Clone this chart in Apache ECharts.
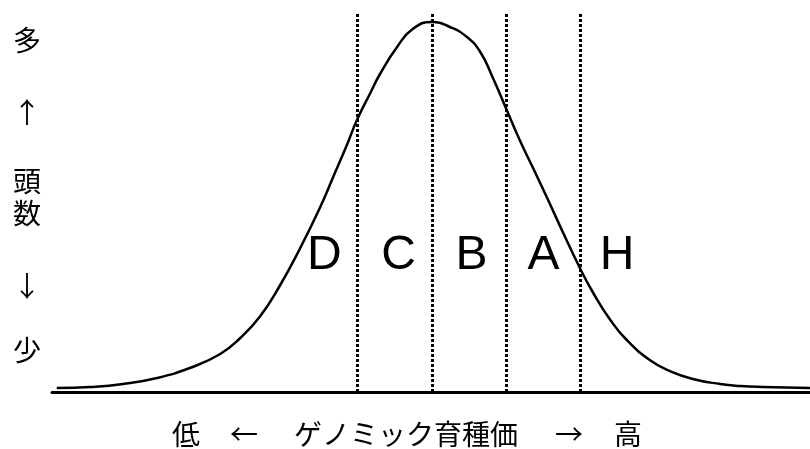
<!DOCTYPE html>
<html>
<head>
<meta charset="utf-8">
<script src="https://cdn.jsdelivr.net/npm/echarts@6/dist/echarts.min.js"></script>
<style>
html,body{margin:0;padding:0;background:#fff;}
#chart{width:810px;height:449px;}
</style>
</head>
<body>
<div id="chart"></div>
<script>
// genomic breeding value (in class-width units, 0 = centre) and relative head count
const curveX = [-5.05,-4.60,-4.16,-3.70,-3.26,-2.85,-2.58,-2.31,-2.05,-1.78,-1.51,-1.33,-1.14,-1.01,-0.83,-0.70,-0.47,-0.26,0,0.24,0.47,0.65,0.82,1.00,1.18,1.36,1.55,1.76,1.99,2.17,2.40,2.62,2.93,3.20,3.51,3.88,4.15,4.45,5.09];
const curveY = [4,5,8,14,24,38,54,76,106,143,184,215,248,272,299,318,345,363,370,365,355,340,314,283,252,224,194,160,124,99,72,52,32,21,13,8,6,5,4];
// class boundaries
const boundaries = [-1, 0, 1, 2];
// grade labels and their positions
const grades = ['D', 'C', 'B', 'A', 'H'];
const gradeX = [-1.45, -0.45, 0.53, 1.5, 2.49];
const gradeY = 136;
// axis texts
const yTexts = ['多', '↑', '頭', '数', '↓', '少'];
const yTextPos = [40, 112, 181, 213, 286, 350];
const xTexts = ['低', '←', 'ゲノミック育種価', '→', '高'];
const xTextPos = [186, 244, 406, 569, 628];

const chart = echarts.init(document.getElementById('chart'));
const cjk = '"Noto Sans CJK JP", "Noto Sans", sans-serif';

const graphics = [];
yTexts.forEach((t, i) => graphics.push({
  type: 'text', x: 27, y: yTextPos[i],
  style: { text: t, font: '28px ' + cjk, fill: '#000', align: 'center', verticalAlign: 'middle' }
}));
xTexts.forEach((t, i) => graphics.push({
  type: 'text', x: xTextPos[i], y: 434,
  style: { text: t, font: '28px ' + cjk, fill: '#000', align: 'center', verticalAlign: 'middle' }
}));

chart.setOption({
  animation: false,
  backgroundColor: '#fff',
  grid: { left: 52, right: 0, top: 13, bottom: 57 },
  xAxis: {
    type: 'value', min: -5.114, max: 5.087,
    axisLine: { show: true, lineStyle: { color: '#000', width: 3 } },
    axisTick: { show: false }, axisLabel: { show: false }, splitLine: { show: false }
  },
  yAxis: {
    type: 'value', min: 0, max: 379, show: false, splitLine: { show: false }
  },
  graphic: graphics,
  series: [
    {
      type: 'line',
      data: curveX.map((x, i) => [x, curveY[i]]),
      smooth: 0.5,
      showSymbol: false,
      lineStyle: { color: '#000', width: 2.5 },
      clip: true,
      markLine: {
        silent: true,
        symbol: 'none',
        label: { show: false },
        lineStyle: { color: '#000', width: 3, type: [3, 2] },
        data: boundaries.map(b => ({ xAxis: b }))
      }
    },
    {
      type: 'scatter',
      symbolSize: 0,
      itemStyle: { opacity: 1, color: '#000' },
      data: grades.map((g, i) => ({ name: g, value: [gradeX[i], gradeY] })),
      label: {
        show: true, position: 'inside', formatter: p => p.name,
        color: '#000', opacity: 1, fontSize: 48, fontFamily: '"Liberation Sans", Arial, sans-serif'
      }
    }
  ]
});
</script>
</body>
</html>
